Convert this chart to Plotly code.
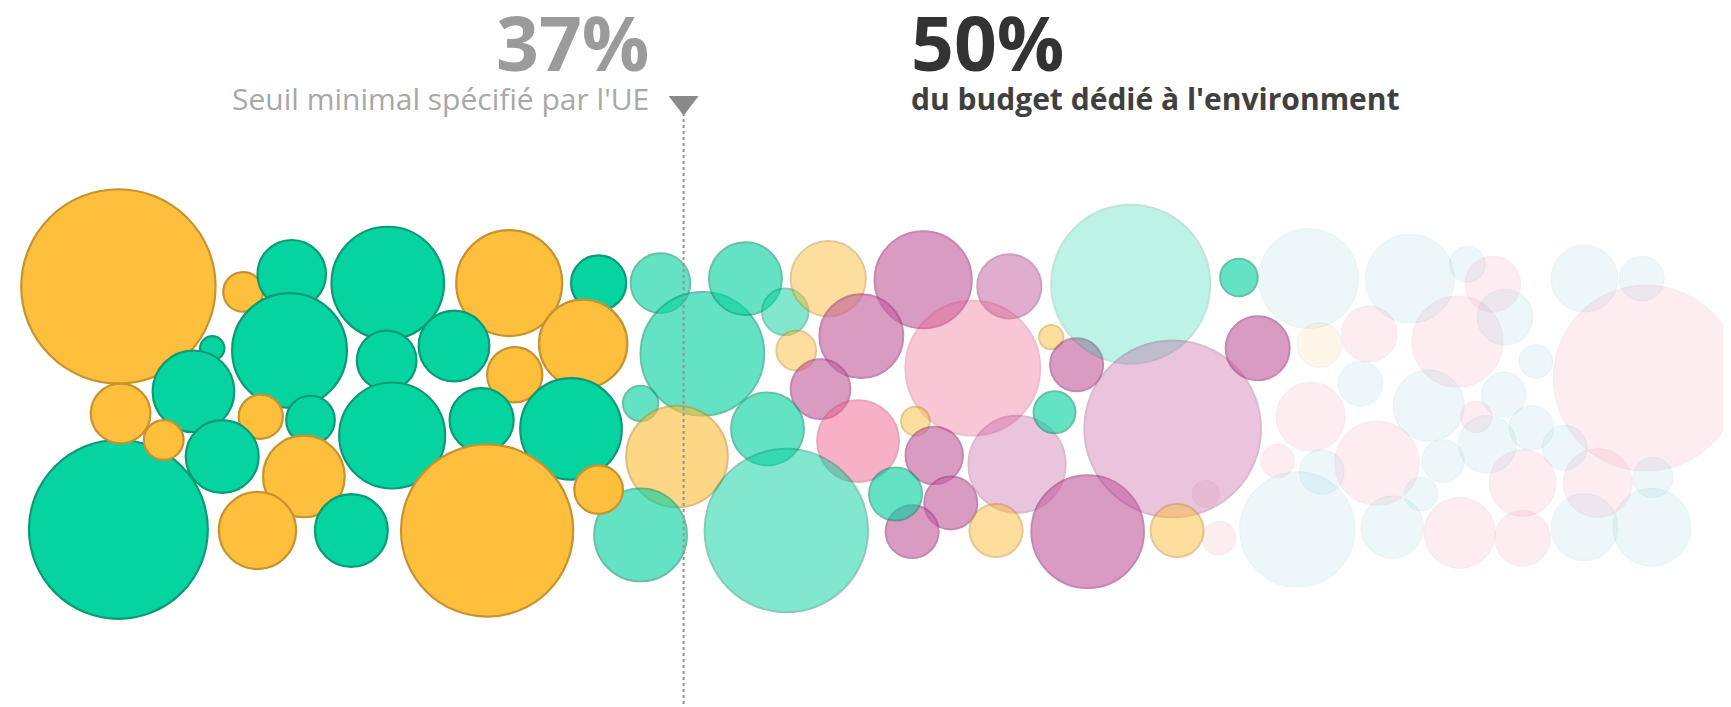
import plotly.graph_objects as go

# ---------------- data ----------------
# bubble centres / diameters are expressed in chart units (chart spans 1568 x 640 units)
# left segment (fully opaque)
left_x = [100, 100, 213, 257, 344, 454, 535, 185, 255, 168, 343, 404, 459, 521, 102, 141, 229, 274, 348, 429, 510, 194, 268, 226, 311, 434, 535]
left_y = [252, 472, 257, 241, 249, 249, 249, 308, 310, 347, 319, 306, 332, 304, 367, 391, 370, 373, 387, 373, 381, 406, 424, 473, 473, 473, 436]
left_d = [176, 162, 36, 62, 102, 96, 50, 22, 104, 74, 54, 64, 50, 80, 54, 36, 40, 44, 96, 58, 92, 66, 74, 70, 66, 156, 44]
left_cat = ["O", "V", "O", "V", "V", "O", "V", "V", "V", "V", "V", "V", "O", "O", "O", "O", "O", "V", "V", "V", "V", "V", "O", "O", "V", "O", "O"]

# middle segment (translucent)
mid_x = [591, 629, 573, 606, 573, 668, 704, 743, 714, 829, 907, 773, 736, 688, 770, 874, 822, 839, 854, 819, 804, 705, 914, 895, 978, 945, 968, 948, 1017, 1055, 1059, 1115, 1132]
mid_y = [249, 313, 358, 406, 477, 245, 275, 245, 310, 246, 252, 297, 345, 381, 392, 326, 374, 405, 448, 474, 440, 473, 413, 473, 474, 298, 323, 366, 250, 381, 473, 244, 308]
mid_d = [54, 112, 32, 92, 84, 66, 42, 68, 36, 88, 58, 76, 54, 66, 74, 122, 26, 52, 48, 48, 48, 148, 88, 48, 102, 22, 48, 38, 144, 160, 48, 34, 58]
mid_cat = ["V", "V", "V", "O", "V", "V", "V", "O", "O", "P", "P", "P", "P", "V", "R", "R", "O", "P", "P", "P", "V", "V", "P", "O", "P", "O", "P", "V", "V", "P", "O", "V", "P"]
mid_tier = ["fort", "fort", "fort", "fort", "fort", "fort", "moyen", "moyen", "moyen", "fort", "moyen", "fort", "fort", "fort", "moyen", "leger", "moyen", "fort", "fort", "fort", "fort", "moyen", "leger", "moyen", "fort", "moyen", "fort", "fort", "pale", "leger", "moyen", "fort", "fort"]

# right segment (ghost bubbles)
right_x = [1178, 1270, 1322, 1345, 1428, 1480, 1484, 1188, 1233, 1313, 1356, 1384, 1225, 1287, 1180, 1330, 1355, 1380, 1340, 1300, 1240, 1150, 1190, 1410, 1372, 1440, 1490, 1168, 1254, 1315, 1372, 1428, 1489, 1280, 1097, 1085]
right_y = [245, 245, 232, 250, 245, 245, 335, 305, 295, 302, 280, 320, 340, 360, 370, 370, 350, 380, 395, 410, 412, 410, 420, 398, 430, 430, 425, 472, 470, 475, 480, 470, 470, 440, 480, 440]
right_d = [90, 80, 32, 50, 60, 40, 168, 40, 50, 82, 50, 30, 40, 64, 62, 28, 40, 40, 52, 38, 76, 30, 40, 40, 60, 62, 36, 104, 56, 64, 50, 60, 70, 30, 30, 24]
right_cat = ["B", "B", "B", "R", "B", "B", "R", "O", "R", "R", "B", "B", "B", "B", "R", "R", "B", "B", "B", "B", "R", "R", "B", "B", "R", "R", "B", "B", "B", "R", "R", "B", "B", "B", "R", "R"]

threshold_pct = "37%"
threshold_label = "Seuil minimal spécifié par l'UE"
budget_pct = "50%"
budget_label = "du budget dédié à l'environment"
threshold_x = 612

# ---------------- styles ----------------
W, H = 1731, 707
UX, UY = 1568, 640           # chart units spanned by the canvas
FILL = {"V": "#05D3A0", "O": "#FDBF3C", "P": "#C45EA0", "R": "#F0648C", "B": "#64BED2"}
LINE = {"V": "#0C9A76", "O": "#C8922C", "P": "#A23F80", "R": "#CC5078", "B": "#4A9DB2"}
TIER_OPACITY = {"plein": 1.0, "fort": 0.62, "moyen": 0.5, "leger": 0.36, "pale": 0.26, "fantome": 0.11}

fig = go.Figure()


def add_bubbles(xs, ys, ds, cats, tiers, lw):
    fig.add_trace(go.Scatter(
        x=xs, y=ys, mode="markers", hoverinfo="skip",
        marker=dict(
            size=ds, sizemode="diameter", sizeref=UX / W,
            color=[FILL[c] for c in cats],
            opacity=[TIER_OPACITY[t] for t in tiers],
            line=dict(color=[LINE[c] for c in cats], width=lw),
        ),
    ))


add_bubbles(right_x, right_y, right_d, right_cat, ["fantome"] * len(right_x), 1.5)
add_bubbles(mid_x, mid_y, mid_d, mid_cat, mid_tier, 2)
add_bubbles(left_x, left_y, left_d, left_cat, ["plein"] * len(left_x), 2.2)

# threshold dotted line + triangle
fig.add_trace(go.Scatter(
    x=[threshold_x, threshold_x], y=[95, 637], mode="lines", hoverinfo="skip",
    line=dict(color="#949494", width=2, dash="dot"),
))
fig.add_trace(go.Scatter(
    x=[threshold_x], y=[85.5], mode="markers", hoverinfo="skip",
    marker=dict(symbol="triangle-down", size=26, color="#8a8a8a"),
))

FONT = "Open Sans"
fig.add_annotation(x=582, y=31, text=threshold_pct, showarrow=False, xanchor="right", yanchor="middle",
                   font=dict(family=FONT, size=75, color="#9b9b9b", weight="bold"))
fig.add_annotation(x=582, y=82, text=threshold_label, showarrow=False, xanchor="right", yanchor="middle",
                   font=dict(family=FONT, size=30, color="#a8a8a8"))
fig.add_annotation(x=816, y=31, text=budget_pct, showarrow=False, xanchor="left", yanchor="middle",
                   font=dict(family=FONT, size=75, color="#333333", weight="bold"))
fig.add_annotation(x=816, y=82, text=budget_label, showarrow=False, xanchor="left", yanchor="middle",
                   font=dict(family=FONT, size=30, color="#404040", weight="bold"))

fig.update_layout(
    width=W, height=H,
    margin=dict(l=0, r=0, t=0, b=0),
    paper_bgcolor="white", plot_bgcolor="white",
    showlegend=False,
    xaxis=dict(range=[0, UX], visible=False, fixedrange=True),
    yaxis=dict(range=[UY, 0], visible=False, fixedrange=True),
)

fig.write_html("out.html", config={"displayModeBar": False})
